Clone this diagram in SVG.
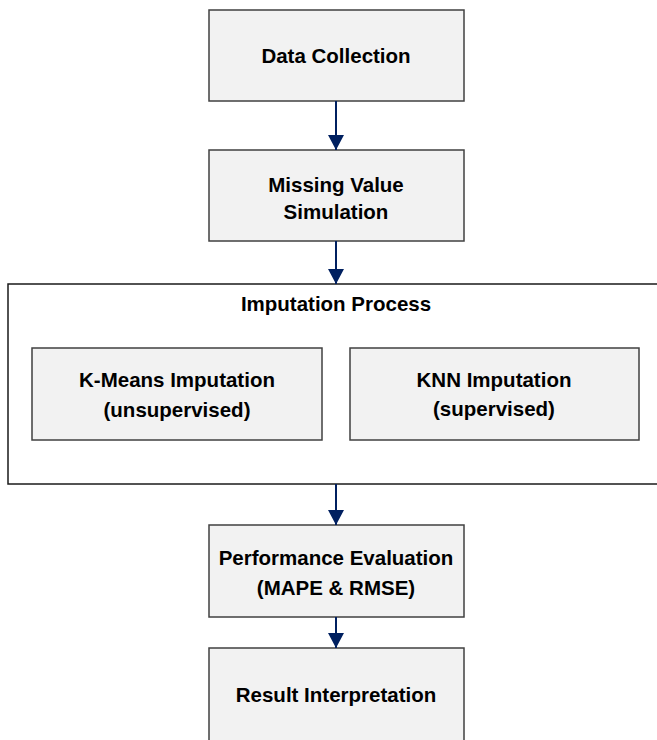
<svg xmlns="http://www.w3.org/2000/svg" width="657" height="740" viewBox="0 0 657 740">
<defs>
<style>
.box{fill:#f2f2f2;stroke:#404040;stroke-width:1.5}
.outer{fill:#ffffff;stroke:#1a1a1a;stroke-width:1.5}
text{font-family:"Liberation Sans",Arial,sans-serif;font-weight:bold;font-size:20.5px;fill:#000;text-anchor:middle}
.conn{stroke:#002060;stroke-width:2;fill:none}
</style>
<marker id="ah" markerWidth="15" markerHeight="16" refX="15" refY="8" orient="auto" markerUnits="userSpaceOnUse" viewBox="0 0 15 16">
<path d="M0,0 L15,8 L0,16 z" fill="#002060"/>
</marker>
</defs>
<rect width="657" height="740" fill="#ffffff"/>
<g id="imputation-process">
<rect class="outer" x="8" y="284" width="660" height="200"/>
<text x="336" y="311">Imputation Process</text>
</g>
<g id="data-collection">
<rect class="box" x="209" y="10" width="255" height="91"/>
<text x="336" y="63">Data Collection</text>
</g>
<g id="missing-value">
<rect class="box" x="209" y="150" width="255" height="91"/>
<text x="336" y="192">Missing Value</text>
<text x="336" y="219">Simulation</text>
</g>
<g id="kmeans">
<rect class="box" x="32" y="348" width="290" height="92"/>
<text x="177" y="387">K-Means Imputation</text>
<text x="177" y="417">(unsupervised)</text>
</g>
<g id="knn">
<rect class="box" x="350" y="348" width="289" height="92"/>
<text x="494" y="387">KNN Imputation</text>
<text x="494" y="416">(supervised)</text>
</g>
<g id="performance">
<rect class="box" x="209" y="525" width="255" height="92"/>
<text x="336" y="565">Performance Evaluation</text>
<text x="336" y="595">(MAPE &amp; RMSE)</text>
</g>
<g id="result">
<rect class="box" x="209" y="648" width="255" height="100"/>
<text x="336" y="702">Result Interpretation</text>
</g>
<g id="connectors">
<line class="conn" x1="336" y1="101" x2="336" y2="150" marker-end="url(#ah)"/>
<line class="conn" x1="336" y1="241" x2="336" y2="284" marker-end="url(#ah)"/>
<line class="conn" x1="336" y1="484" x2="336" y2="525" marker-end="url(#ah)"/>
<line class="conn" x1="336" y1="617" x2="336" y2="648" marker-end="url(#ah)"/>
</g>
</svg>
